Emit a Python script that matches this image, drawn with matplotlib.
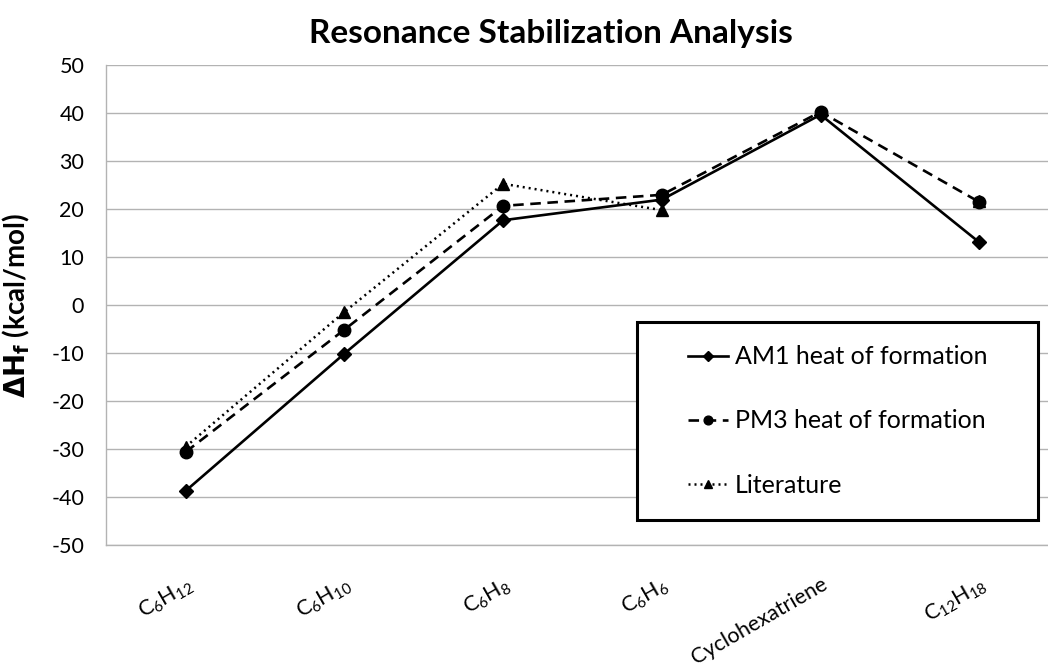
import matplotlib
matplotlib.use("Agg")
import numpy as np
import matplotlib.pyplot as plt
from matplotlib.patches import Rectangle

plt.rcParams['font.family'] = ['Lato', 'DejaVu Sans']
plt.rcParams['mathtext.default'] = 'regular'
plt.rcParams['axes.unicode_minus'] = False

compounds = [r'$\mathregular{C_6H_{12}}$', r'$\mathregular{C_6H_{10}}$', r'$\mathregular{C_6H_8}$',
             r'$\mathregular{C_6H_6}$', 'Cyclohexatriene', r'$\mathregular{C_{12}H_{18}}$']
am1 = [-38.7, -10.1, 17.7, 22.0, 39.7, 13.1]
pm3 = [-30.6, -5.1, 20.7, 23.0, 40.3, 21.5]
literature = [-29.5, -1.4, 25.3, 19.8, np.nan, 21.8]

W, H = 1048, 671
fig = plt.figure(figsize=(W / 100, H / 100), dpi=100)
ax = fig.add_axes([106.4 / W, (H - 545) / H, 952.2 / W, 479.7 / H])

x = np.arange(len(compounds))
ax.plot(x, am1, color='black', lw=1.9, ls='-', marker='D', ms=7,
        label='AM1 heat of formation')
ax.plot(x, pm3, color='black', lw=1.9, ls=(0, (4, 2.5)), marker='o', ms=9,
        label='PM3 heat of formation')
ax.plot(x, literature, color='black', lw=1.8, ls=(0, (0.8, 1.6)), marker='^', ms=9,
        label='Literature')

ax.set_xlim(-0.5, len(compounds) - 0.5)
ax.set_ylim(-50, 50)
ax.set_yticks(np.arange(-50, 51, 10))
ax.yaxis.grid(True, color='#b3b3b3', lw=1.0)
ax.set_axisbelow(True)
for side in ['top', 'right']:
    ax.spines[side].set_visible(False)
for side in ['left', 'bottom']:
    ax.spines[side].set_color('#b3b3b3')
    ax.spines[side].set_linewidth(1.0)
ax.tick_params(axis='both', length=0, colors='black')
ax.tick_params(axis='y', labelsize=15.5, pad=16)
ax.set_xticks(x)
ax.set_xticklabels(compounds, rotation=30, ha='right', va='top',
                   rotation_mode='anchor', fontsize=15.5)
ax.tick_params(axis='x', pad=21)

ax.set_ylabel(r'$\mathbf{\Delta H_f}$ (kcal/mol)', fontsize=20, fontweight='bold', labelpad=14)

fig.text(551 / W, 1 - 33 / H, 'Resonance Stabilization Analysis', ha='center', va='center',
         fontsize=24, fontweight='bold')

# legend box drawn separately to get the wide side padding
fig.patches.append(Rectangle((637 / W, (H - 520) / H), 401 / W, 198 / H,
                             transform=fig.transFigure, fill=True, facecolor='white',
                             edgecolor='black', lw=2.2, zorder=5))
leg = fig.legend(loc='center', bbox_to_anchor=(837.5 / W, (H - 421) / H),
                 frameon=False, fontsize=18, handlelength=1.6, handletextpad=0.3,
                 labelspacing=1.65, markerscale=0.7)
leg.set_zorder(6)

fig.savefig('out.png', dpi=100)
